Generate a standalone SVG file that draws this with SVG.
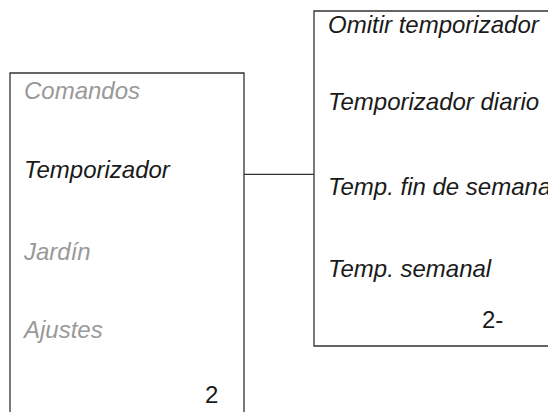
<svg xmlns="http://www.w3.org/2000/svg" width="548" height="412" viewBox="0 0 548 412">
<style>
.box{fill:#fff;stroke:#333;stroke-width:1.3}
.conn{fill:none;stroke:#333;stroke-width:1.3}
text{font-family:"Liberation Sans",Arial,sans-serif;font-size:24px}
.it{font-style:italic}
.g{fill:#999}
.k{fill:#1a1a1a}
</style>
<rect width="548" height="412" fill="#fff"/>
<g id="connectors">
<line class="conn" x1="244" y1="174.3" x2="314" y2="174.3"/>
</g>
<g id="menu-main">
<path class="box" d="M10,420 V73 H244 V420"/>
<text class="it g" x="24" y="99">Comandos</text>
<text class="it k" x="24" y="178">Temporizador</text>
<text class="it g" x="24" y="260">Jardín</text>
<text class="it g" x="24" y="338">Ajustes</text>
<text class="k" x="205" y="403">2</text>
</g>
<g id="menu-timer">
<path class="box" d="M560,11 H314 V346 H560"/>
<text class="it k" x="328" y="33">Omitir temporizador</text>
<text class="it k" x="328" y="110">Temporizador diario</text>
<text class="it k" x="328" y="195">Temp. fin de semana</text>
<text class="it k" x="328" y="277">Temp. semanal</text>
<text class="k" x="482" y="328">2-</text>
</g>
</svg>
